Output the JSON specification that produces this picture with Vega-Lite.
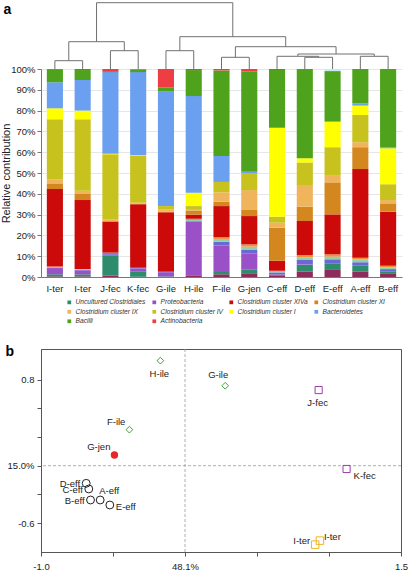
{
  "$schema": "https://vega.github.io/schema/vega-lite/v6.json",
  "padding": {"left": 0, "top": 2, "right": 2, "bottom": 0},
  "config": {
    "font": "Liberation Sans",
    "view": {"stroke": null},
    "axis": {"labelColor": "#222", "titleColor": "#222"}
  },
  "resolve": {"scale": {"color": "independent", "shape": "independent", "size": "independent"}, "legend": {"color": "independent"}},
  "datasets": {
    "taxa": [
      {"k": "t01", "taxon": "Other 1", "o": 1},
      {"k": "t02", "taxon": "Uncultured Clostridiales", "o": 2},
      {"k": "t03", "taxon": "Proteobacteria", "o": 3},
      {"k": "t04", "taxon": "Other 2", "o": 4},
      {"k": "t05", "taxon": "Other 3", "o": 5},
      {"k": "t06", "taxon": "Other 4", "o": 6},
      {"k": "t07", "taxon": "Clostridium cluster XIVa", "o": 7},
      {"k": "t08", "taxon": "Clostridium cluster XI", "o": 8},
      {"k": "t09", "taxon": "Clostridium cluster IX", "o": 9},
      {"k": "t10", "taxon": "Clostridium cluster IV", "o": 10},
      {"k": "t11", "taxon": "Clostridium cluster I", "o": 11},
      {"k": "t12", "taxon": "Bacteroidetes", "o": 12},
      {"k": "t13", "taxon": "Bacilli", "o": 13},
      {"k": "t14", "taxon": "Actinobacteria", "o": 14},
      {"k": "t15", "taxon": "Other 5", "o": 15}
    ],
    "bars": [
      {"sample": "I-ter 1", "t01": 0.3, "t02": 1.0, "t03": 3.0, "t04": 0.3, "t05": 0.2, "t06": 0.2, "t07": 37.3, "t08": 2.4, "t09": 2.3, "t10": 28.8, "t11": 5.3, "t12": 12.5, "t13": 6.0, "t14": 0.4, "t15": 0},
      {"sample": "I-ter 2", "t01": 0.3, "t02": 1.0, "t03": 1.9, "t04": 0.3, "t05": 0.2, "t06": 0.1, "t07": 33.2, "t08": 2.9, "t09": 1.6, "t10": 34.3, "t11": 4.2, "t12": 14.7, "t13": 4.8, "t14": 0.5, "t15": 0},
      {"sample": "J-fec", "t01": 0.6, "t02": 9.6, "t03": 0.5, "t04": 0.8, "t05": 0.2, "t06": 0, "t07": 14.9, "t08": 0.3, "t09": 0.8, "t10": 31.3, "t11": 0.2, "t12": 39.3, "t13": 0.5, "t14": 1.0, "t15": 0},
      {"sample": "K-fec", "t01": 0.1, "t02": 2.4, "t03": 1.6, "t04": 0.3, "t05": 0.1, "t06": 0, "t07": 30.5, "t08": 0.3, "t09": 0.4, "t10": 22.5, "t11": 0.3, "t12": 40.0, "t13": 1.3, "t14": 0.2, "t15": 0},
      {"sample": "G-ile", "t01": 0.1, "t02": 0.2, "t03": 2.0, "t04": 0.1, "t05": 0.1, "t06": 0, "t07": 28.6, "t08": 0.3, "t09": 1.1, "t10": 1.6, "t11": 0, "t12": 55.0, "t13": 2.1, "t14": 8.8, "t15": 0},
      {"sample": "H-ile", "t01": 0.8, "t02": 0.2, "t03": 25.6, "t04": 0.3, "t05": 0.5, "t06": 0.6, "t07": 2.0, "t08": 2.0, "t09": 0.3, "t10": 1.8, "t11": 6.4, "t12": 46.5, "t13": 12.5, "t14": 0.5, "t15": 0},
      {"sample": "F-ile", "t01": 1.3, "t02": 1.1, "t03": 12.7, "t04": 1.9, "t05": 1.3, "t06": 0.8, "t07": 15.0, "t08": 2.1, "t09": 4.5, "t10": 5.0, "t11": 0, "t12": 12.5, "t13": 41.1, "t14": 0.7, "t15": 0},
      {"sample": "G-jen", "t01": 1.8, "t02": 1.9, "t03": 7.7, "t04": 1.6, "t05": 1.6, "t06": 1.1, "t07": 13.6, "t08": 2.9, "t09": 9.6, "t10": 8.2, "t11": 0, "t12": 0.6, "t13": 48.1, "t14": 1.3, "t15": 0},
      {"sample": "C-eff", "t01": 0.8, "t02": 0.3, "t03": 0.3, "t04": 0.8, "t05": 0.3, "t06": 0.5, "t07": 4.8, "t08": 15.9, "t09": 2.4, "t10": 2.9, "t11": 42.8, "t12": 0, "t13": 27.7, "t14": 0.5, "t15": 0},
      {"sample": "D-eff", "t01": 2.5, "t02": 3.4, "t03": 0.2, "t04": 2.1, "t05": 1.3, "t06": 1.1, "t07": 16.3, "t08": 6.9, "t09": 10.4, "t10": 10.9, "t11": 2.0, "t12": 0, "t13": 42.9, "t14": 0, "t15": 0},
      {"sample": "E-eff", "t01": 3.4, "t02": 3.2, "t03": 0, "t04": 1.9, "t05": 1.3, "t06": 1.1, "t07": 19.2, "t08": 15.4, "t09": 3.5, "t10": 13.4, "t11": 12.3, "t12": 0, "t13": 24.3, "t14": 0, "t15": 1.0},
      {"sample": "A-eff", "t01": 2.5, "t02": 2.9, "t03": 0, "t04": 1.7, "t05": 1.4, "t06": 0.8, "t07": 42.6, "t08": 10.5, "t09": 2.4, "t10": 13.1, "t11": 4.5, "t12": 1.1, "t13": 16.5, "t14": 0, "t15": 0},
      {"sample": "B-eff", "t01": 1.8, "t02": 0.7, "t03": 0, "t04": 1.3, "t05": 0.8, "t06": 0.8, "t07": 26.0, "t08": 4.0, "t09": 1.6, "t10": 7.6, "t11": 17.3, "t12": 0.5, "t13": 37.6, "t14": 0, "t15": 0}
    ],
    "dendro": [
      {"xl": 0, "xr": 1, "hl": 0, "hr": 0, "h": 8.3},
      {"xl": 2, "xr": 3, "hl": 0, "hr": 0, "h": 18.3},
      {"xl": 0.5, "xr": 2.5, "hl": 8.3, "hr": 18.3, "h": 27.3},
      {"xl": 4, "xr": 5, "hl": 0, "hr": 0, "h": 18.3},
      {"xl": 6, "xr": 7, "hl": 0, "hr": 0, "h": 11.7},
      {"xl": 9, "xr": 10, "hl": 0, "hr": 0, "h": 11.7},
      {"xl": 8, "xr": 9.5, "hl": 0, "hr": 11.7, "h": 12.7},
      {"xl": 11, "xr": 12, "hl": 0, "hr": 0, "h": 12.7},
      {"xl": 8.75, "xr": 11.5, "hl": 12.7, "hr": 12.7, "h": 15},
      {"xl": 6.5, "xr": 10.125, "hl": 11.7, "hr": 15, "h": 22.3},
      {"xl": 4.5, "xr": 8.3125, "hl": 18.3, "hr": 22.3, "h": 32.3},
      {"xl": 1.5, "xr": 6.40625, "hl": 27.3, "hr": 32.3, "h": 66.3}
    ],
    "pts": [
      {"id": "H-ile", "name": "H-ile", "grp": "ile", "x": -0.171, "y": 0.986},
      {"id": "G-ile", "name": "G-ile", "grp": "ile", "x": 0.279, "y": 0.741},
      {"id": "F-ile", "name": "F-ile", "grp": "ile", "x": -0.386, "y": 0.312},
      {"id": "J-fec", "name": "J-fec", "grp": "fec", "x": 0.928, "y": 0.699},
      {"id": "K-fec", "name": "K-fec", "grp": "fec", "x": 1.122, "y": -0.072},
      {"id": "G-jen", "name": "G-jen", "grp": "jen", "x": -0.49, "y": 0.065},
      {"id": "D-eff", "name": "D-eff", "grp": "eff", "x": -0.686, "y": -0.212},
      {"id": "C-eff", "name": "C-eff", "grp": "eff", "x": -0.668, "y": -0.267},
      {"id": "A-eff", "name": "A-eff", "grp": "eff", "x": -0.589, "y": -0.375},
      {"id": "B-eff", "name": "B-eff", "grp": "eff", "x": -0.656, "y": -0.375},
      {"id": "E-eff", "name": "E-eff", "grp": "eff", "x": -0.522, "y": -0.424},
      {"id": "I-ter 1", "name": "I-ter", "grp": "ter", "x": 0.904, "y": -0.811},
      {"id": "I-ter 2", "name": "I-ter", "grp": "ter", "x": 0.937, "y": -0.772}
    ]
  },
  "spacing": 18,
  "vconcat": [
    {
      "bounds": "flush",
      "spacing": 0,
      "vconcat": [
        {
          "width": 361,
          "height": 67,
          "data": {"name": "dendro"},
          "layer": [
            {
              "mark": {"type": "rule", "color": "#707070", "strokeWidth": 1, "clip": false},
              "encoding": {
                "x": {"field": "xl", "type": "quantitative", "scale": {"domain": [-0.5, 12.5], "nice": false, "zero": false}, "axis": null},
                "x2": {"field": "xr"},
                "y": {"field": "h", "type": "quantitative", "scale": {"domain": [0, 67], "nice": false},
                  "axis": {"title": "a", "titleAngle": 0, "titleAlign": "left", "titleBaseline": "top", "titleX": -38, "titleY": 0, "titleFontSize": 14, "titleFontWeight": "bold", "titleColor": "#000", "labels": false, "ticks": false, "domain": false, "grid": false}}
              }
            },
            {
              "mark": {"type": "rule", "color": "#707070", "strokeWidth": 1, "clip": false},
              "encoding": {
                "x": {"field": "xl", "type": "quantitative", "scale": {"domain": [-0.5, 12.5], "nice": false, "zero": false}, "axis": null},
                "y": {"field": "hl", "type": "quantitative", "scale": {"domain": [0, 67], "nice": false},
                  "axis": {"title": "a", "titleAngle": 0, "titleAlign": "left", "titleBaseline": "top", "titleX": -38, "titleY": 0, "titleFontSize": 14, "titleFontWeight": "bold", "titleColor": "#000", "labels": false, "ticks": false, "domain": false, "grid": false}},
                "y2": {"field": "h"}
              }
            },
            {
              "mark": {"type": "rule", "color": "#707070", "strokeWidth": 1, "clip": false},
              "encoding": {
                "x": {"field": "xr", "type": "quantitative", "scale": {"domain": [-0.5, 12.5], "nice": false, "zero": false}, "axis": null},
                "y": {"field": "hr", "type": "quantitative", "scale": {"domain": [0, 67], "nice": false},
                  "axis": {"title": "a", "titleAngle": 0, "titleAlign": "left", "titleBaseline": "top", "titleX": -38, "titleY": 0, "titleFontSize": 14, "titleFontWeight": "bold", "titleColor": "#000", "labels": false, "ticks": false, "domain": false, "grid": false}},
                "y2": {"field": "h"}
              }
            }
          ]
        },
        {
          "width": 361,
          "height": 208,
          "data": {"name": "bars"},
          "transform": [
            {"fold": ["t01", "t02", "t03", "t04", "t05", "t06", "t07", "t08", "t09", "t10", "t11", "t12", "t13", "t14", "t15"], "as": ["k", "v"]},
            {"lookup": "k", "from": {"data": {"name": "taxa"}, "key": "k", "fields": ["taxon", "o"]}}
          ],
          "mark": {"type": "bar"},
          "encoding": {
            "x": {"field": "sample", "type": "nominal", "sort": null,
              "scale": {"paddingInner": 0.42, "paddingOuter": 0.21},
              "axis": {"title": null, "labelAngle": 0, "labelFontSize": 9.5, "ticks": false, "labelPadding": 6, "domainColor": "#777", "labelExpr": "split(datum.value, ' ')[0]"}},
            "y": {"field": "v", "type": "quantitative", "stack": "normalize",
              "scale": {"domain": [0, 1], "nice": false},
              "axis": {"values": [0, 0.1, 0.2, 0.3, 0.4, 0.5, 0.6, 0.7, 0.8, 0.9, 1.0], "format": ".0%", "grid": true, "gridColor": "#e6e6e6", "tickSize": 4, "tickColor": "#777", "domainColor": "#777", "labelFontSize": 9.5, "labelPadding": 2,
                "title": "Relative contribution", "titleFontSize": 11, "titleFontWeight": "normal", "titleX": -30, "titleY": 104}},
            "color": {"field": "taxon", "type": "nominal",
              "scale": {
                "domain": ["Uncultured Clostridiales", "Proteobacteria", "Clostridium cluster XIVa", "Clostridium cluster XI", "Clostridium cluster IX", "Clostridium cluster IV", "Clostridium cluster I", "Bacteroidetes", "Bacilli", "Actinobacteria", "Other 1", "Other 2", "Other 3", "Other 4", "Other 5"],
                "range": ["#2e8b6c", "#9a50c6", "#cc0a0a", "#d4871f", "#efb45c", "#c8c21e", "#ffff00", "#6b9ff0", "#4fa31c", "#ee3e43", "#8d2c5a", "#6b68d6", "#8ed2a9", "#f2903a", "#c3ecf2"]
              },
              "legend": {"values": ["Uncultured Clostridiales", "Proteobacteria", "Clostridium cluster XIVa", "Clostridium cluster XI", "Clostridium cluster IX", "Clostridium cluster IV", "Clostridium cluster I", "Bacteroidetes", "Bacilli", "Actinobacteria"],
                "title": null, "orient": "none", "legendX": 25, "legendY": 297, "columns": 4, "direction": "horizontal", "padding": 0,
                "symbolType": "square", "symbolSize": 14, "symbolStrokeWidth": 0, "labelFontSize": 6.6, "labelFontStyle": "italic", "labelColor": "#333", "labelOffset": 3, "columnPadding": 5, "rowPadding": 2.5}},
            "order": {"field": "o", "type": "quantitative"}
          }
        }
      ]
    },
    {
      "width": 360,
      "height": 203,
      "view": {"stroke": "#555", "strokeWidth": 1},
      "layer": [
        {
          "data": {"values": [{}]},
          "mark": {"type": "rule", "color": "#999", "strokeDash": [3, 2], "strokeWidth": 0.8},
          "encoding": {"x": {"datum": 0, "type": "quantitative", "scale": {"domain": [-1, 1.5], "nice": false, "zero": false}}}
        },
        {
          "data": {"values": [{}]},
          "mark": {"type": "rule", "color": "#999", "strokeDash": [3, 2], "strokeWidth": 0.8},
          "encoding": {"y": {"datum": -0.04, "type": "quantitative", "scale": {"domain": [-0.883, 1.1], "nice": false, "zero": false}}}
        },
        {
          "data": {"name": "pts"},
          "transform": [{"filter": "datum.grp != 'jen'"}],
          "mark": {"type": "point", "filled": false, "strokeWidth": 1, "opacity": 1},
          "encoding": {
            "x": {"field": "x", "type": "quantitative", "scale": {"domain": [-1, 1.5], "nice": false, "zero": false},
              "axis": {"title": null, "values": [-1, -0.5, 0, 0.5, 1, 1.5], "labelExpr": "datum.value == -1 ? '-1.0' : datum.value == 0 ? '48.1%' : datum.value == 1.5 ? '1.5' : ''", "labelFlush": false, "grid": false, "tickSize": 4, "tickColor": "#555", "domainColor": "#555", "labelFontSize": 9.5, "labelPadding": 5}},
            "y": {"field": "y", "type": "quantitative", "scale": {"domain": [-0.883, 1.1], "nice": false, "zero": false},
              "axis": {"values": [0.8, 0.52, 0.24, -0.04, -0.32, -0.6], "labelExpr": "datum.value == 0.8 ? '0.8' : datum.value == -0.04 ? '15.0%' : datum.value == -0.6 ? '-0.6' : ''", "grid": false, "tickSize": 4, "tickColor": "#555", "domainColor": "#555", "labelFontSize": 9.5, "labelPadding": 3,
                "title": "b", "titleAngle": 0, "titleAlign": "left", "titleBaseline": "top", "titleX": -36, "titleY": -5, "titleFontSize": 14, "titleFontWeight": "bold", "titleColor": "#000"}},
            "shape": {"field": "grp", "type": "nominal", "scale": {"domain": ["ile", "fec", "ter", "eff"], "range": ["diamond", "square", "square", "circle"]}, "legend": null},
            "color": {"field": "grp", "type": "nominal", "scale": {"domain": ["ile", "fec", "ter", "eff"], "range": ["#3ba636", "#a23ab0", "#f0b323", "#222222"]}, "legend": null},
            "size": {"field": "grp", "type": "nominal", "scale": {"domain": ["ile", "fec", "ter", "eff"], "range": [45, 62, 22, 40]}, "legend": null}
          }
        },
        {
          "data": {"name": "pts"},
          "transform": [{"filter": "datum.grp == 'jen'"}],
          "mark": {"type": "circle", "color": "#e8262a", "opacity": 1, "size": 55},
          "encoding": {
            "x": {"field": "x", "type": "quantitative", "scale": {"domain": [-1, 1.5], "nice": false, "zero": false}},
            "y": {"field": "y", "type": "quantitative", "scale": {"domain": [-0.883, 1.1], "nice": false, "zero": false}}
          }
        },
        {
          "data": {"name": "pts"},
          "transform": [{"filter": {"field": "id", "oneOf": ["H-ile", "J-fec"]}}],
          "mark": {"type": "text", "align": "center", "baseline": "middle", "dx": -1, "dy": 13, "fontSize": 9.5, "color": "#222"},
          "encoding": {"x": {"field": "x", "type": "quantitative"}, "y": {"field": "y", "type": "quantitative"}, "text": {"field": "name"}}
        },
        {
          "data": {"name": "pts"},
          "transform": [{"filter": {"field": "id", "oneOf": ["G-ile"]}}],
          "mark": {"type": "text", "align": "center", "baseline": "middle", "dx": -7, "dy": -11, "fontSize": 9.5, "color": "#222"},
          "encoding": {"x": {"field": "x", "type": "quantitative"}, "y": {"field": "y", "type": "quantitative"}, "text": {"field": "name"}}
        },
        {
          "data": {"name": "pts"},
          "transform": [{"filter": {"field": "id", "oneOf": ["F-ile", "G-jen"]}}],
          "mark": {"type": "text", "align": "right", "baseline": "middle", "dx": -4, "dy": -8, "fontSize": 9.5, "color": "#222"},
          "encoding": {"x": {"field": "x", "type": "quantitative"}, "y": {"field": "y", "type": "quantitative"}, "text": {"field": "name"}}
        },
        {
          "data": {"name": "pts"},
          "transform": [{"filter": {"field": "id", "oneOf": ["K-fec"]}}],
          "mark": {"type": "text", "align": "left", "baseline": "middle", "dx": 7, "dy": 7, "fontSize": 9.5, "color": "#222"},
          "encoding": {"x": {"field": "x", "type": "quantitative"}, "y": {"field": "y", "type": "quantitative"}, "text": {"field": "name"}}
        },
        {
          "data": {"name": "pts"},
          "transform": [{"filter": {"field": "id", "oneOf": ["E-eff"]}}],
          "mark": {"type": "text", "align": "left", "baseline": "middle", "dx": 6, "dy": 2, "fontSize": 9.5, "color": "#222"},
          "encoding": {"x": {"field": "x", "type": "quantitative"}, "y": {"field": "y", "type": "quantitative"}, "text": {"field": "name"}}
        },
        {
          "data": {"name": "pts"},
          "transform": [{"filter": {"field": "id", "oneOf": ["D-eff", "C-eff", "B-eff"]}}],
          "mark": {"type": "text", "align": "right", "baseline": "middle", "dx": -6, "dy": 1, "fontSize": 9.5, "color": "#222"},
          "encoding": {"x": {"field": "x", "type": "quantitative"}, "y": {"field": "y", "type": "quantitative"}, "text": {"field": "name"}}
        },
        {
          "data": {"name": "pts"},
          "transform": [{"filter": {"field": "id", "oneOf": ["A-eff"]}}],
          "mark": {"type": "text", "align": "left", "baseline": "middle", "dx": -1, "dy": -9, "fontSize": 9.5, "color": "#222"},
          "encoding": {"x": {"field": "x", "type": "quantitative"}, "y": {"field": "y", "type": "quantitative"}, "text": {"field": "name"}}
        },
        {
          "data": {"name": "pts"},
          "transform": [{"filter": {"field": "id", "oneOf": ["I-ter 1"]}}],
          "mark": {"type": "text", "align": "right", "baseline": "middle", "dx": -5, "dy": -4, "fontSize": 9.5, "color": "#222"},
          "encoding": {"x": {"field": "x", "type": "quantitative"}, "y": {"field": "y", "type": "quantitative"}, "text": {"field": "name"}}
        },
        {
          "data": {"name": "pts"},
          "transform": [{"filter": {"field": "id", "oneOf": ["I-ter 2"]}}],
          "mark": {"type": "text", "align": "left", "baseline": "middle", "dx": 4, "dy": -4, "fontSize": 9.5, "color": "#222"},
          "encoding": {"x": {"field": "x", "type": "quantitative"}, "y": {"field": "y", "type": "quantitative"}, "text": {"field": "name"}}
        }
      ]
    }
  ]
}
